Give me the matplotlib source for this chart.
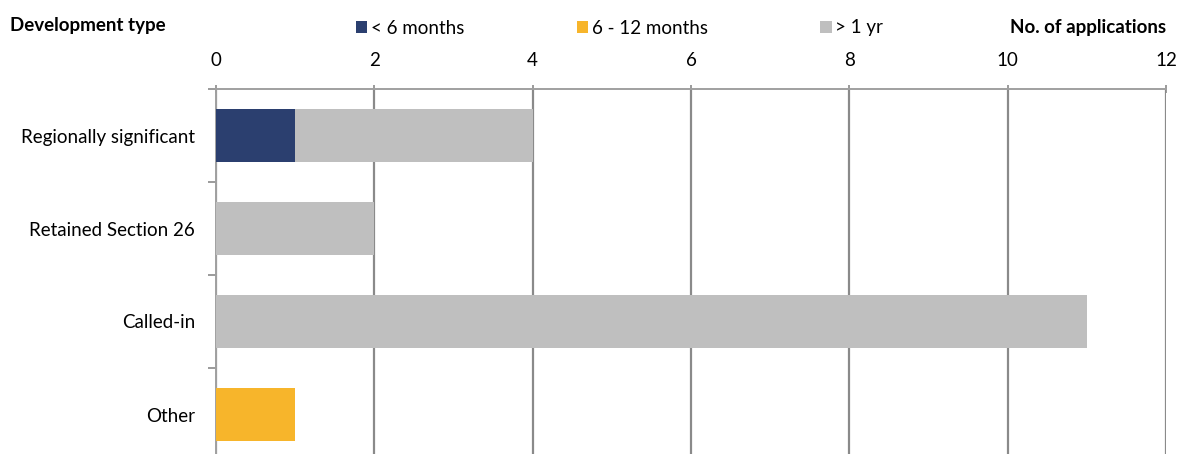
import numpy as np
import matplotlib.pyplot as plt

plt.rcParams['font.family'] = ['Lato', 'DejaVu Sans']

categories = ['Regionally significant', 'Retained Section 26', 'Called-in', 'Other']
under_6m = [1, 0, 0, 0]
six_12m = [0, 0, 0, 1]
over_1yr = [3, 2, 11, 0]
series_names = ['< 6 months', '6 - 12 months', '> 1 yr']
colors = ['#2b3f6f', '#f7b52b', '#bfbfbf']

fs = 13.5

fig = plt.figure(figsize=(11.8, 4.54), dpi=100)
ax = fig.add_axes([216 / 1180, -7 / 454, 950 / 1180, 372 / 454])

ypos = np.arange(len(categories))
left = np.zeros(len(categories))
for vals, name, col in zip([under_6m, six_12m, over_1yr], series_names, colors):
    ax.barh(ypos, vals, height=0.58, left=left, color=col, label=name, zorder=3)
    left += np.array(vals)

ax.set_xlim(0, 12)
ax.set_ylim(len(categories) - 0.5, -0.5)
ax.set_xticks(np.arange(0, 13, 2))
ax.xaxis.tick_top()
ax.tick_params(axis='x', which='major', length=6, color='#8a8a8a', width=1.2,
               labelsize=fs, pad=11.5, direction='inout')
ax.xaxis.grid(True, color='#8a8a8a', linewidth=1.6, zorder=1)

ax.set_yticks(ypos, categories)
ax.set_yticks(np.arange(-0.5, len(categories) + 0.5, 1), minor=True)
ax.tick_params(axis='y', which='major', length=0, labelsize=fs, pad=15)
ax.tick_params(axis='y', which='minor', length=6, color='#8a8a8a', width=1.2)

for side in ['right', 'bottom']:
    ax.spines[side].set_visible(False)
for side in ['top', 'left']:
    ax.spines[side].set_color('#a0a0a0')
    ax.spines[side].set_linewidth(1.4)

fig.text(10 / 1180, 1 - 25 / 454, 'Development type', fontsize=fs, fontweight='bold',
         va='center', ha='left')
fig.text(1166 / 1180, 1 - 28 / 454, 'No. of applications', fontsize=fs, fontweight='bold',
         va='center', ha='right')

fig.legend(loc='center left', bbox_to_anchor=(356 / 1180, 1 - 28 / 454), ncol=3,
           frameon=False, fontsize=fs, handlelength=0.6, handleheight=0.6,
           handletextpad=0.2, columnspacing=6.0, borderpad=0, borderaxespad=0)

fig.savefig('out.png', dpi=100)
